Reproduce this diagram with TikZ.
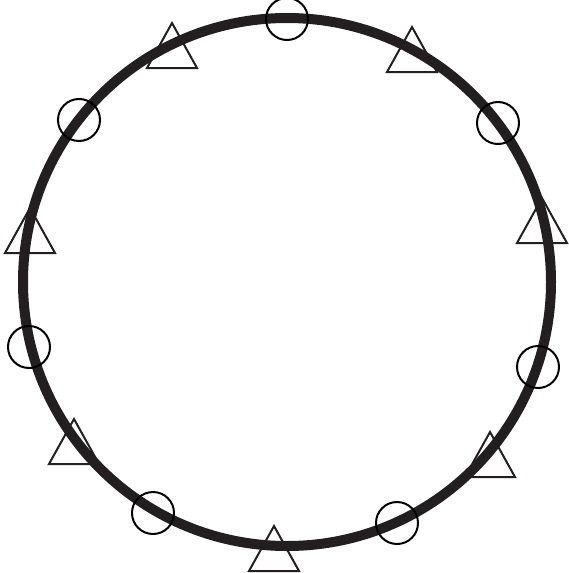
\documentclass[tikz,border=0pt]{standalone}
\begin{document}
\begin{tikzpicture}[x=1pt,y=-1pt,
  ring/.style={draw=ringcol,line width=10pt},
  marker/.style={draw=black,circle,line width=2pt,minimum size=42pt,inner sep=0pt},
  tri/.style={draw=ringcol,line width=2pt,line join=miter}]
\definecolor{ringcol}{HTML}{231F20}
\useasboundingbox (0,0) rectangle (568,573);
\node[draw=none,circle,minimum size=528pt,inner sep=0pt] (ringnode) at (287,282) {};
\draw[ring] (287,282) circle[radius=264];
\node[marker] (c1) at (287,19) {};
\node[marker] (c2) at (79,120) {};
\node[marker] (c3) at (498,123) {};
\node[marker] (c4) at (29,347) {};
\node[marker] (c5) at (538,367) {};
\node[marker] (c6) at (153,513) {};
\node[marker] (c7) at (397,523) {};
\coordinate (t1) at (172,23);
\coordinate (t2) at (412,27);
\coordinate (t3) at (30,208);
\coordinate (t4) at (542,198);
\coordinate (t5) at (74,419);
\coordinate (t6) at (490,432);
\coordinate (t7) at (274,526);
\foreach \t in {t1,t2,t3,t4,t5,t6,t7}{
  \draw[tri] (\t) -- ++(25,45) -- ++(-50,0) -- cycle;
}
\end{tikzpicture}
\end{document}
